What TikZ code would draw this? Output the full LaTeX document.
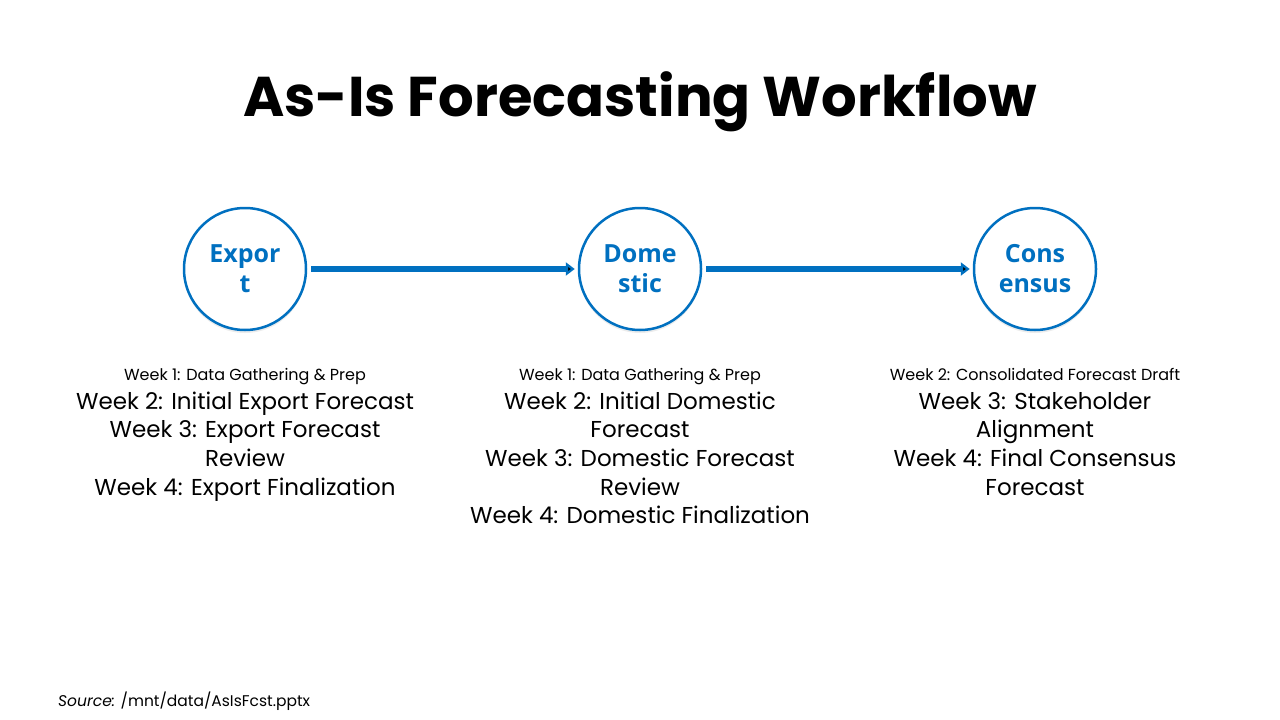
\documentclass[tikz,border=0pt]{standalone}
\usepackage{fontspec}
\setmainfont{Poppins}
\newfontfamily\circfont{Open Sans}
\usepackage{tikz}
\usetikzlibrary{arrows.meta,shadows}
\definecolor{flowblue}{HTML}{0070C0}
\tikzstyle{stage}=[circle, draw=flowblue, line width=2.5pt, fill=white,
                minimum size=122pt, inner sep=0, text=flowblue, align=center,
                font=\circfont\fontsize{25}{30}\selectfont\bfseries,
                drop shadow={shadow xshift=0pt, shadow yshift=-3pt, opacity=0.15}]
\tikzstyle{weeks}=[align=center, anchor=north, inner sep=0, text=black,
                font=\fontsize{23}{28.7}\selectfont]
\tikzstyle{flow}=[-{Triangle[length=9pt,width=13pt]}, draw=flowblue, line width=6pt]

\begin{document}
\begin{tikzpicture}[x=1pt,y=-1pt]
\path[use as bounding box] (0,0) rectangle (1280,720);
\node[font=\fontsize{56}{62}\selectfont\bfseries] (title) at (640,102) {As-Is Forecasting Workflow};
\node[stage] (exp) at (245,269) {Expor\\t};
\node[stage] (dom) at (640,269) {Dome\\stic};
\node[stage] (con) at (1035,269) {Cons\\ensus};
\path[flow]
  (exp) edge[shorten <=4pt, shorten >=3pt] (dom)
  (dom) edge[shorten <=4pt, shorten >=3pt] (con);
\node[weeks] (expw) at (245,368) {{\fontsize{16}{20.5}\selectfont Week 1: Data Gathering \& Prep}\\
  Week 2: Initial Export Forecast\\Week 3: Export Forecast\\Review\\Week 4: Export Finalization};
\node[weeks] (domw) at (640,368) {{\fontsize{16}{20.5}\selectfont Week 1: Data Gathering \& Prep}\\
  Week 2: Initial Domestic\\Forecast\\Week 3: Domestic Forecast\\Review\\Week 4: Domestic Finalization};
\node[weeks] (conw) at (1035,368) {{\fontsize{16}{20.5}\selectfont Week 2: Consolidated Forecast Draft}\\
  Week 3: Stakeholder\\Alignment\\Week 4: Final Consensus\\Forecast};
\node[anchor=west, inner sep=0, font=\fontsize{15.5}{20}\selectfont] (src) at (58,701) {\textit{Source:} /mnt/data/AsIsFcst.pptx};
\end{tikzpicture}
\end{document}
